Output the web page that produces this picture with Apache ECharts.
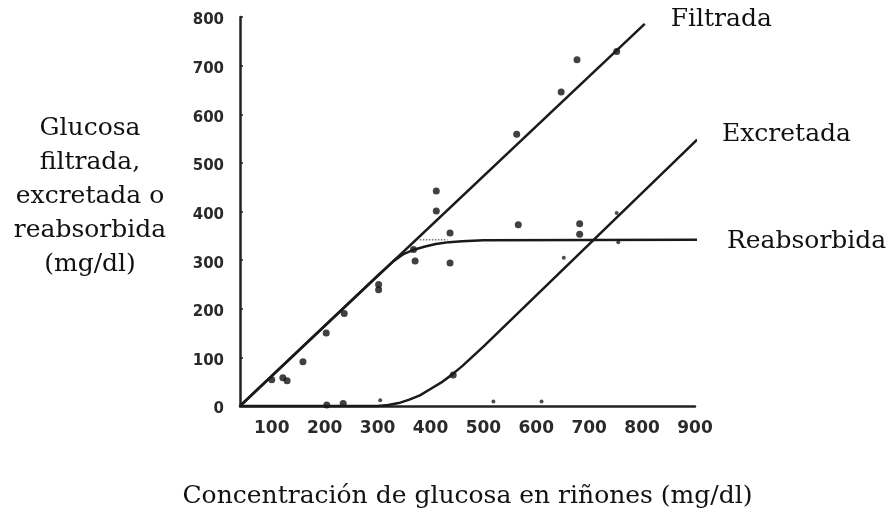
<!DOCTYPE html>
<html>
<head>
<meta charset="utf-8">
<script src="https://cdn.jsdelivr.net/npm/echarts@6/dist/echarts.min.js"></script>
<style>
  html, body { margin: 0; padding: 0; background: #fff; }
  #chart { width: 888px; height: 518px; }
</style>
</head>
<body>
<div id="chart"></div>
<script>
// curvas (x = concentración, y = glucosa)
var filtrada = [[40, 0], [805, 786]]
var reabsorbida = [[40, 0], [300, 268], [330, 298], [350, 313], [370, 322], [390, 328], [410, 333], [435, 337], [460, 339], [500, 341], [925, 342]]
var excretada = [[40, 0], [300, 0], [320, 2], [340, 6], [360, 13], [380, 22], [400, 35], [420, 48], [440, 64], [460, 82], [480, 102], [500, 122], [904, 548]]
var reabsIdeal = [[380, 342], [432, 342]]

// puntos medidos
var puntos = [
  [100, 54], [121, 58], [129, 52], [159, 91], [203, 150], [237, 190],
  [302, 250], [302, 239], [368, 322], [371, 298], [411, 442], [411, 401],
  [437, 356], [437, 294], [563, 559], [647, 646], [677, 712], [752, 729],
  [566, 373], [682, 375], [682, 353], [204, 2], [235, 5], [443, 64]
]
var puntosChicos = [[755, 337], [652, 305], [305, 12], [519, 9], [610, 9], [752, 397]]

var xTicks = [100, 200, 300, 400, 500, 600, 700, 800, 900]
var nombres = ['Filtrada', 'Reabsorbida', 'Excretada']
var tituloY = 'Glucosa\nfiltrada,\nexcretada o\nreabsorbida\n(mg/dl)'
var tituloX = 'Concentración de glucosa en riñones (mg/dl)'

var myChart = echarts.init(document.getElementById('chart'))

var serif = 'DejaVu Serif'
var lineStyle = { color: '#1a1a1a', width: 2.5 }

function curva (name, data, offset) {
  return {
    name: name,
    type: 'line',
    data: data,
    showSymbol: false,
    smooth: false,
    clip: false,
    lineStyle: lineStyle,
    endLabel: {
      show: true,
      formatter: '{a}',
      distance: offset[0],
      offset: [0, offset[1]],
      fontFamily: serif,
      fontSize: 25,
      color: '#111'
    }
  }
}

var option = {
  animation: false,
  backgroundColor: '#fff',
  grid: { left: 240, right: 193, top: 17, bottom: 112, containLabel: false },
  xAxis: {
    type: 'value',
    min: 40,
    max: 900,
    name: tituloX,
    nameLocation: 'middle',
    nameGap: 78,
    nameTextStyle: { fontFamily: serif, fontSize: 25, color: '#111' },
    axisLine: { show: true, lineStyle: { color: '#222', width: 2.5 } },
    axisTick: { show: false },
    splitLine: { show: false },
    axisLabel: {
      customValues: xTicks,
      margin: 14,
      fontFamily: 'DejaVu Sans',
      fontWeight: 'bold',
      fontSize: 17,
      color: '#2a2a2a'
    }
  },
  yAxis: {
    type: 'value',
    min: 0,
    max: 800,
    interval: 100,
    axisLine: { show: true, lineStyle: { color: '#222', width: 2.5 } },
    axisTick: { show: true, inside: true, length: 3, lineStyle: { color: '#222', width: 1.5 } },
    splitLine: { show: false },
    axisLabel: {
      margin: 16,
      formatter: '{a|{value}}',
      rich: {
        a: {
          padding: [7, 0, 0, 0],
          fontFamily: 'DejaVu Sans',
          fontWeight: 'bold',
          fontSize: 15,
          color: '#2a2a2a'
        }
      }
    }
  },
  graphic: [{
    type: 'text',
    x: 90,
    y: 111,
    style: {
      text: tituloY,
      fontFamily: serif,
      fontSize: 25,
      lineHeight: 34,
      align: 'center',
      verticalAlign: 'top',
      fill: '#111'
    }
  }],
  series: [
    curva(nombres[0], filtrada, [26, -4]),
    curva(nombres[1], reabsorbida, [30, 2]),
    curva(nombres[2], excretada, [25, -5]),
    {
      type: 'line',
      data: reabsIdeal,
      showSymbol: false,
      lineStyle: { color: '#777', width: 1.5, type: 'dotted' }
    },
    {
      type: 'scatter',
      data: puntos,
      symbolSize: 7,
      itemStyle: { color: '#111' }
    },
    {
      type: 'scatter',
      data: puntosChicos,
      symbolSize: 4,
      itemStyle: { color: '#222' }
    }
  ]
}
myChart.setOption(option)
</script>
</body>
</html>
